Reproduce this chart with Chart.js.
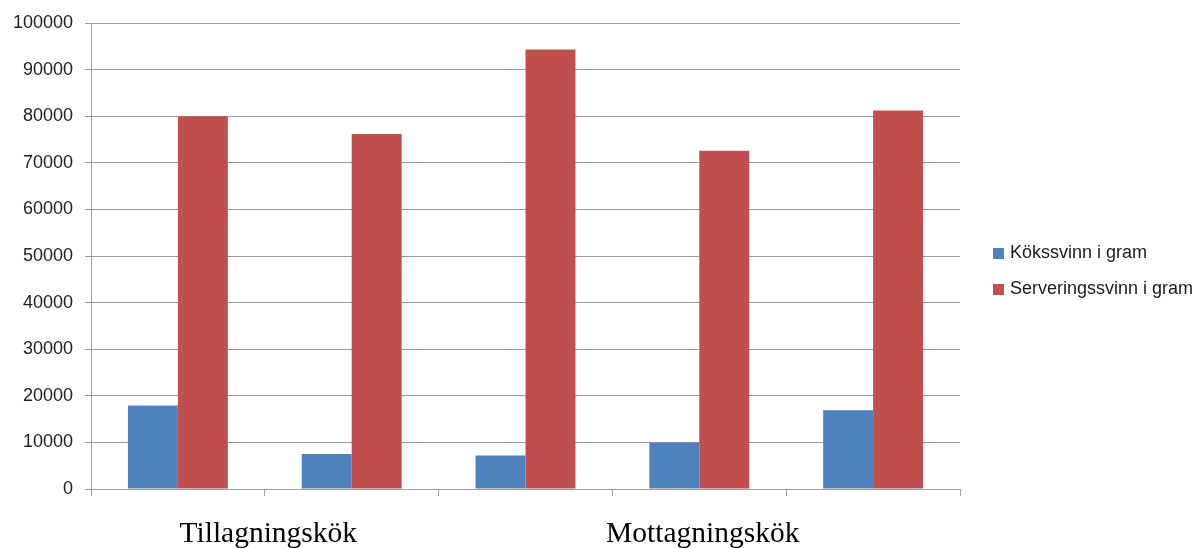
<!DOCTYPE html>
<html lang="sv">
<head>
<meta charset="utf-8">
<title>Kökssvinn och serveringssvinn</title>
<script src="https://cdn.jsdelivr.net/npm/chart.js@4/dist/chart.umd.min.js"></script>
<style>
  html, body { margin: 0; padding: 0; background: #ffffff; }
  #wrap { width: 1201px; height: 548px; position: relative; }
</style>
</head>
<body>
<div id="wrap"><canvas id="chart" width="1201" height="548"></canvas></div>
<script>
// Five kitchens, grouped by kitchen type
const categories = ['Kök 1', 'Kök 2', 'Kök 3', 'Kök 4', 'Kök 5'];
const groupLabels = ['Tillagningskök', 'Mottagningskök'];
const groupSizes = [2, 3];

// Waste in grams per kitchen
const kitchenWaste = [17900, 7500, 7200, 9900, 16900];
const servingWaste = [80000, 76200, 94300, 72600, 81200];

const seriesNames = ['Kökssvinn i gram', 'Serveringssvinn i gram'];
const seriesColors = ['#4f81bd', '#c0504d'];

const yMin = 0, yMax = 100000, yStep = 10000;

// Group captions drawn under the category spans
const groupLabelPlugin = {
  id: 'groupLabels',
  afterDraw(chart) {
    const x = chart.scales.x;
    const ctx = chart.ctx;
    const n = categories.length;
    const catW = (x.right - x.left) / n;
    let start = 0;
    ctx.save();
    ctx.font = '29.5px "Liberation Serif", "Times New Roman", serif';
    ctx.fillStyle = '#000000';
    ctx.textAlign = 'center';
    ctx.textBaseline = 'alphabetic';
    groupLabels.forEach((label, i) => {
      const end = start + groupSizes[i] - 1;
      const left = x.getPixelForValue(start) - catW / 2;
      const right = x.getPixelForValue(end) + catW / 2;
      ctx.fillText(label, (left + right) / 2 + 3.5, 542);
      start = end + 1;
    });
    ctx.restore();
  }
};

// Legend to the right of the plot
const sideLegendPlugin = {
  id: 'sideLegend',
  afterDraw(chart) {
    const ctx = chart.ctx;
    ctx.save();
    ctx.font = '18px "Liberation Sans", Arial, sans-serif';
    ctx.textBaseline = 'middle';
    ctx.textAlign = 'left';
    chart.data.datasets.forEach((ds, i) => {
      const cy = 253 + i * 36;
      ctx.fillStyle = ds.backgroundColor;
      ctx.fillRect(993, cy - 5, 11, 11);
      ctx.fillStyle = '#1a1a1a';
      ctx.fillText(ds.label, 1010, cy);
    });
    ctx.restore();
  }
};

new Chart(document.getElementById('chart'), {
  type: 'bar',
  data: {
    labels: categories,
    datasets: [
      { label: seriesNames[0], data: kitchenWaste, backgroundColor: seriesColors[0] },
      { label: seriesNames[1], data: servingWaste, backgroundColor: seriesColors[1] }
    ]
  },
  options: {
    responsive: false,
    animation: false,
    devicePixelRatio: 1,
    layout: { padding: { left: 0, right: 241, top: 23, bottom: 0 } },
    datasets: { bar: { categoryPercentage: 0.575, barPercentage: 1.0 } },
    plugins: {
      legend: { display: false },
      tooltip: { enabled: false }
    },
    scales: {
      x: {
        ticks: { display: false },
        grid: {
          offset: true,
          drawOnChartArea: false,
          drawTicks: true,
          tickLength: 7,
          color: '#a0a0a0',
          lineWidth: 1
        },
        border: { color: '#a0a0a0', width: 1 },
        afterFit(scale) { scale.height = 59; }
      },
      y: {
        min: yMin,
        max: yMax,
        ticks: {
          stepSize: yStep,
          padding: 12,
          color: '#222222',
          font: { family: '"Liberation Sans", Arial, sans-serif', size: 18 },
          callback: (value) => String(value)
        },
        grid: {
          color: '#989898',
          lineWidth: 1,
          drawTicks: true,
          tickLength: 6
        },
        border: { color: '#a0a0a0', width: 1 },
        afterFit(scale) { scale.width = 91; }
      }
    }
  },
  plugins: [groupLabelPlugin, sideLegendPlugin]
});
</script>
</body>
</html>
